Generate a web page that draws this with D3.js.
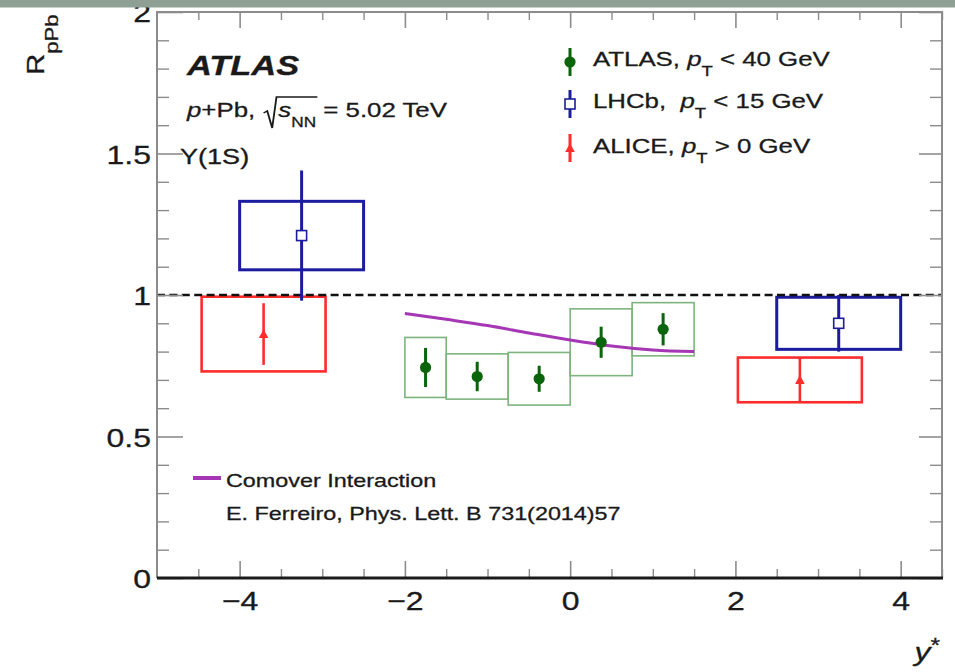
<!DOCTYPE html>
<html>
<head>
<meta charset="utf-8">
<script src="https://cdn.jsdelivr.net/npm/d3@7"></script>
<style>
  html, body { margin: 0; padding: 0; background: #fff; }
  svg { display: block; }
  text { font-family: "Liberation Sans", Arial, Helvetica, sans-serif; fill: #1a1a1a; stroke: #1a1a1a; stroke-width: 0.3; white-space: pre; }
</style>
</head>
<body>
<svg id="chart" width="955" height="672"></svg>
<script>
// Upsilon(1S) nuclear modification factor R_pPb versus y*

// ATLAS, pT < 40 GeV
const atlasY     = [-1.75, -1.125, -0.375, 0.375, 1.125];
const atlasBinLo = [-2.0, -1.5, -0.75, 0.0, 0.75];
const atlasBinHi = [-1.5, -0.75, 0.0, 0.75, 1.5];
const atlasR     = [0.744, 0.712, 0.704, 0.833, 0.879];
const atlasStat  = [0.069, 0.052, 0.046, 0.055, 0.057];
const atlasSyst  = [0.106, 0.080, 0.093, 0.118, 0.094];

// LHCb, pT < 15 GeV
const lhcbY     = [-3.25, 3.25];
const lhcbBinLo = [-4.0, 2.5];
const lhcbBinHi = [-2.5, 4.0];
const lhcbR     = [1.21, 0.90];
const lhcbStat  = [0.23, 0.10];
const lhcbSyst  = [0.121, 0.092];

// ALICE, pT > 0 GeV
const aliceY     = [-3.71, 2.78];
const aliceBinLo = [-4.46, 2.03];
const aliceBinHi = [-2.96, 3.53];
const aliceR     = [0.862, 0.700];
const aliceStat  = [0.109, 0.077];
const aliceSyst  = [0.132, 0.079];

// Comover interaction model curve
const comoverY = [-2.0, -1.5, -1.0, -0.5, 0.0, 0.5, 1.0, 1.5];
const comoverR = [0.935, 0.914, 0.892, 0.866, 0.841, 0.820, 0.806, 0.800];

// Axes
const xMajorTicks = [-4, -2, 0, 2, 4];
const xTickLabels = ["\u22124", "\u22122", "0", "2", "4"];
const yMajorTicks = [0, 0.5, 1, 1.5, 2];
const yTickLabels = ["0", "0.5", "1", "1.5", "2"];
const xMinorTicks = d3.range(-4.5, 4.51, 0.5).filter(v => !xMajorTicks.includes(v));
const yMinorTicks = d3.range(0.1, 2.0, 0.1).map(v => +v.toFixed(1)).filter(v => !yMajorTicks.includes(v));

const S = 1.23; // horizontal glyph stretch of the text face

const colAtlas = "#0a640a", colAtlasBox = "#7db47d";
const colLhcb = "#1c1c9e", colAlice = "#ff2c2c", colComover = "#a537b5";
const colFrame = "#8c8c8c";

const svg = d3.select("#chart");
const x = d3.scaleLinear().domain([-5, 4.5]).range([157, 942]);
const y = d3.scaleLinear().domain([0, 2]).range([578, 12]);

svg.append("rect").attr("width", 955).attr("height", 672).attr("fill", "#fff");

// rich text: pieces of {t, i, b, size, sh(baseline shift), dx}
function rich(parent, px, py, pieces, size, opts = {}) {
  const g = parent.append("g")
    .attr("transform", `translate(${px},${py})${opts.rotate ? ` rotate(${opts.rotate})` : ""} scale(${S},1)`);
  const t = g.append("text").attr("font-size", size)
    .attr("text-anchor", opts.anchor || "start")
    .attr("xml:space", "preserve");
  let prev = 0;
  pieces.forEach(p => {
    const sh = p.sh || 0;
    const ts = t.append("tspan").text(p.t);
    if (sh - prev !== 0) ts.attr("dy", sh - prev);
    if (p.dx) ts.attr("dx", p.dx);
    if (p.size) ts.attr("font-size", p.size);
    if (p.i) ts.attr("font-style", "italic");
    if (p.b) ts.attr("font-weight", "bold");
    prev = sh;
  });
  return { g, t };
}

// ---- systematic boxes ----
const plot = svg.append("g");
function boxes(Y, lo, hi, R, syst, color, width) {
  plot.append("g").selectAll("rect").data(Y).join("rect")
    .attr("x", (d, i) => x(lo[i]))
    .attr("width", (d, i) => x(hi[i]) - x(lo[i]))
    .attr("y", (d, i) => y(R[i] + syst[i]))
    .attr("height", (d, i) => y(R[i] - syst[i]) - y(R[i] + syst[i]))
    .attr("fill", "none").attr("stroke", color).attr("stroke-width", width);
}
boxes(atlasY, atlasBinLo, atlasBinHi, atlasR, atlasSyst, colAtlasBox, 1.6);
boxes(aliceY, aliceBinLo, aliceBinHi, aliceR, aliceSyst, colAlice, 2.6);
boxes(lhcbY, lhcbBinLo, lhcbBinHi, lhcbR, lhcbSyst, colLhcb, 3);

// unity reference line
plot.append("line")
  .attr("x1", x(-5)).attr("x2", x(4.5)).attr("y1", y(1)).attr("y2", y(1))
  .attr("stroke", "#111").attr("stroke-width", 2.5).attr("stroke-dasharray", "8,4.4");

// comover curve
const comoverData = comoverY.map((v, i) => [v, comoverR[i]]);
plot.append("path").datum(comoverData)
  .attr("d", d3.line().x(d => x(d[0])).y(d => y(d[1])).curve(d3.curveMonotoneX))
  .attr("fill", "none").attr("stroke", colComover).attr("stroke-width", 3);

// ---- markers ----
function statBars(Y, R, stat, color, width) {
  plot.append("g").selectAll("line").data(Y).join("line")
    .attr("x1", d => x(d)).attr("x2", d => x(d))
    .attr("y1", (d, i) => y(R[i] - stat[i])).attr("y2", (d, i) => y(R[i] + stat[i]))
    .attr("stroke", color).attr("stroke-width", width);
}
function drawMarker(g, kind, cx, cy) {
  if (kind === "atlas") {
    g.append("circle").attr("cx", cx).attr("cy", cy).attr("r", 5.6).attr("fill", colAtlas);
  } else if (kind === "lhcb") {
    g.append("rect").attr("x", cx - 5).attr("y", cy - 5).attr("width", 10).attr("height", 10)
      .attr("fill", "#fff").attr("stroke", colLhcb).attr("stroke-width", 1.6);
  } else {
    g.append("path").attr("d", `M${cx},${cy - 4.8}L${cx + 4.8},${cy + 4}L${cx - 4.8},${cy + 4}Z`)
      .attr("fill", colAlice);
  }
}
statBars(atlasY, atlasR, atlasStat, colAtlas, 3);
statBars(lhcbY, lhcbR, lhcbStat, colLhcb, 3);
statBars(aliceY, aliceR, aliceStat, colAlice, 2.6);
atlasY.forEach((d, i) => drawMarker(plot, "atlas", x(d), y(atlasR[i])));
lhcbY.forEach((d, i) => drawMarker(plot, "lhcb", x(d), y(lhcbR[i])));
aliceY.forEach((d, i) => drawMarker(plot, "alice", x(d), y(aliceR[i])));

// ---- axes (ticks point inward) ----
function styleTicks(g, w) {
  g.select(".domain").remove();
  g.selectAll(".tick line").attr("stroke", colFrame).attr("stroke-width", w);
}
const gL = svg.append("g").attr("transform", `translate(${x(-5)},0)`)
  .call(d3.axisLeft(y).tickValues(yMajorTicks).tickSize(-26).tickFormat((d, i) => yTickLabels[i]));
styleTicks(gL, 1.6);
gL.selectAll(".tick text")
  .attr("x", null).attr("dy", null)
  .attr("transform", `translate(-6,9.5) scale(${S},1)`)
  .attr("font-size", 26).attr("font-family", null).attr("fill", null).attr("text-anchor", "end");
styleTicks(svg.append("g").attr("transform", `translate(${x(-5)},0)`)
  .call(d3.axisLeft(y).tickValues(yMinorTicks).tickSize(-12).tickFormat("")), 1.4);
styleTicks(svg.append("g").attr("transform", `translate(${x(4.5)},0)`)
  .call(d3.axisRight(y).tickValues(yMajorTicks).tickSize(-23).tickFormat("")), 1.6);
styleTicks(svg.append("g").attr("transform", `translate(${x(4.5)},0)`)
  .call(d3.axisRight(y).tickValues(yMinorTicks).tickSize(-12).tickFormat("")), 1.4);

const gB = svg.append("g").attr("transform", `translate(0,${y(0)})`)
  .call(d3.axisBottom(x).tickValues(xMajorTicks).tickSize(-17).tickFormat((d, i) => xTickLabels[i]));
styleTicks(gB, 1.6);
gB.selectAll(".tick text")
  .attr("y", null).attr("dy", null)
  .attr("transform", `translate(0,32) scale(${S},1)`)
  .attr("font-size", 26).attr("font-family", null).attr("fill", null).attr("text-anchor", "middle");
styleTicks(svg.append("g").attr("transform", `translate(0,${y(0)})`)
  .call(d3.axisBottom(x).tickValues(xMinorTicks).tickSize(-9).tickFormat("")), 1.4);
styleTicks(svg.append("g").attr("transform", `translate(0,${y(2)})`)
  .call(d3.axisTop(x).tickValues(xMajorTicks).tickSize(-16).tickFormat("")), 1.6);
styleTicks(svg.append("g").attr("transform", `translate(0,${y(2)})`)
  .call(d3.axisTop(x).tickValues(xMinorTicks).tickSize(-8).tickFormat("")), 1.4);

// frame
const frame = svg.append("g").attr("fill", "none");
frame.append("path")
  .attr("d", `M${x(-5)},${y(0)}V${y(2)}H${x(4.5)}V${y(0)}`)
  .attr("stroke", colFrame).attr("stroke-width", 2);
frame.append("line").attr("x1", x(-5)).attr("x2", x(4.5) + 1).attr("y1", y(0)).attr("y2", y(0))
  .attr("stroke", "#1a1a1a").attr("stroke-width", 3.2);

// ---- axis titles ----
rich(svg, 44, 75, [{ t: "R" }, { t: "pPb", size: 18, sh: 14 }], 24, { rotate: -90 });
rich(svg, 940, 661, [{ t: "y", i: 1 }, { t: "*", size: 20, sh: -9 }], 26, { anchor: "end" });

// ---- labels ----
rich(svg, 187, 75, [{ t: "ATLAS", i: 1, b: 1 }], 28);

const energy = rich(svg, 187, 117, [
  { t: "p", i: 1 }, { t: "+Pb, " },
  { t: "s", i: 1, dx: 13 }, { t: "NN", size: 14, sh: 10 },
  { t: " = 5.02 TeV", sh: 0 }
], 21);
{
  const node = energy.t.node();
  const xs = node.getStartPositionOfChar(6).x;
  const xe = node.getEndPositionOfChar(8).x;
  energy.g.append("path")
    .attr("d", `M${xs - 12},-4L${xs - 9},-6L${xs - 5},11L${xs - 1.5},-20H${xe + 1}`)
    .attr("fill", "none").attr("stroke", "#1a1a1a").attr("stroke-width", 1.5);
}
rich(svg, 180, 164, [{ t: "\u03A5(1S)" }], 22);

// legend
const leg = svg.append("g");
const legRows = [
  { kind: "atlas", color: colAtlas, cy: 62, base: 66,
    pieces: [{ t: "ATLAS, " }, { t: "p", i: 1 }, { t: "T", size: 15, sh: 10 }, { t: " < 40 GeV", sh: 0 }] },
  { kind: "lhcb", color: colLhcb, cy: 104, base: 108,
    pieces: [{ t: "LHCb,  " }, { t: "p", i: 1 }, { t: "T", size: 15, sh: 10 }, { t: " < 15 GeV", sh: 0 }] },
  { kind: "alice", color: colAlice, cy: 148, base: 153,
    pieces: [{ t: "ALICE, " }, { t: "p", i: 1 }, { t: "T", size: 15, sh: 10 }, { t: " > 0 GeV", sh: 0 }] }
];
legRows.forEach(r => {
  leg.append("line").attr("x1", 570).attr("x2", 570).attr("y1", r.cy - 14).attr("y2", r.cy + 14)
    .attr("stroke", r.color).attr("stroke-width", 3);
  drawMarker(leg, r.kind, 570, r.cy);
  rich(leg, 593, r.base, r.pieces, 21);
});

leg.append("line").attr("x1", 193).attr("x2", 221).attr("y1", 478).attr("y2", 478)
  .attr("stroke", colComover).attr("stroke-width", 4);
rich(leg, 226, 487, [{ t: "Comover Interaction" }], 19);
rich(leg, 226, 520, [{ t: "E. Ferreiro, Phys. Lett. B 731(2014)57" }], 19);

// top band
svg.append("rect").attr("x", 0).attr("y", 0).attr("width", 955).attr("height", 7.5).attr("fill", "#8e9f93");
</script>
</body>
</html>
